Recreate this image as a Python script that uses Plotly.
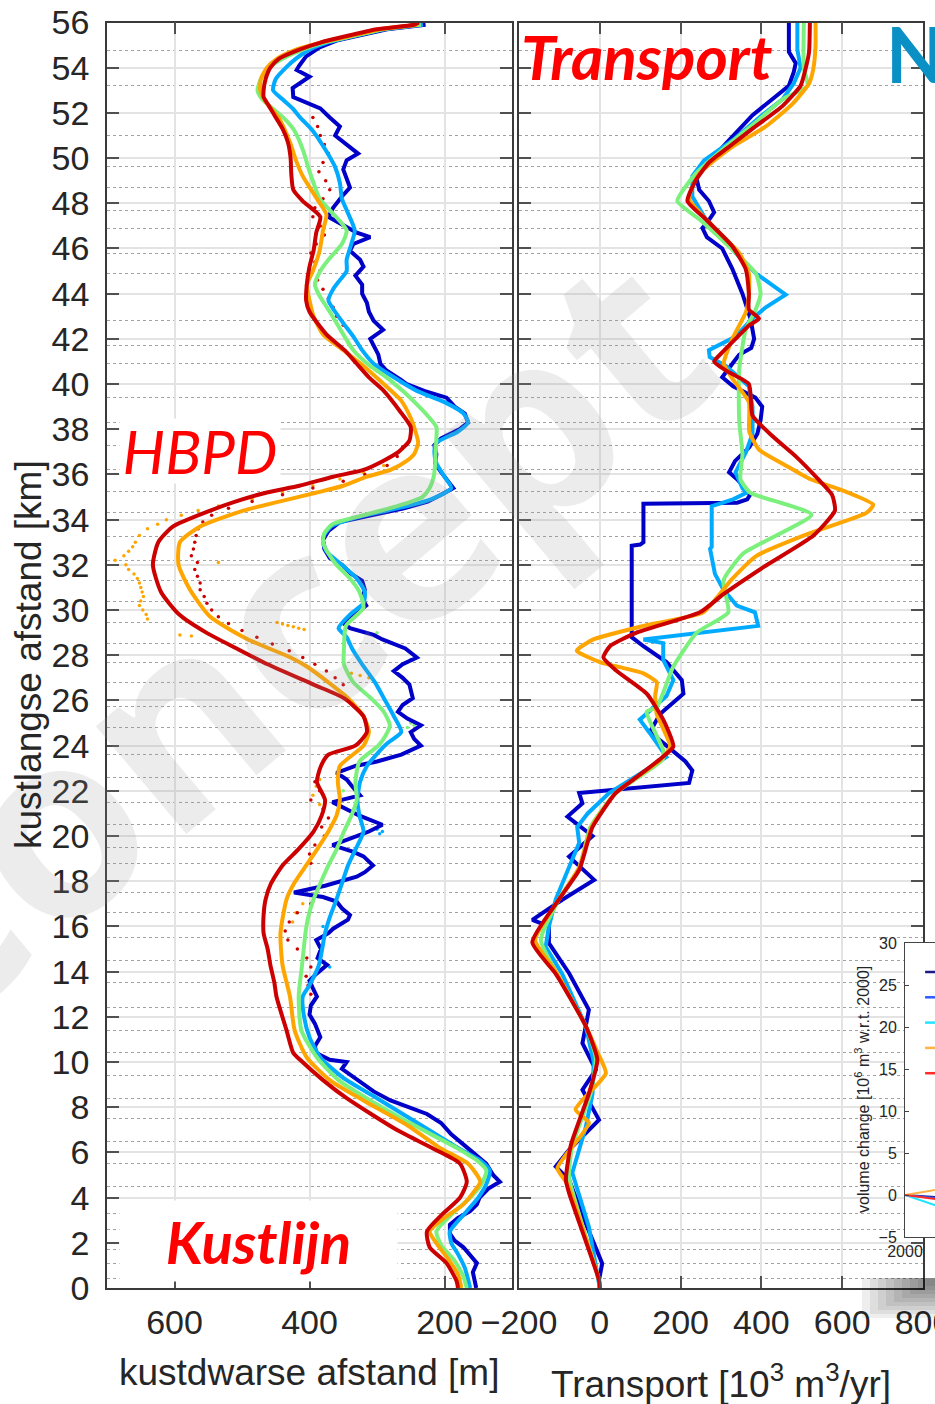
import plotly.graph_objects as go

W, H = 935, 1404


def fx(p):
    """pixel column -> paper x"""
    return p / W


def fy(p):
    """pixel row -> paper y"""
    return 1 - p / H


# ---------------- Kustlijn: kustdwarse positie [m] per kustlangse km ----------------
kust_blauw = [(55.9,228),(55.7,285),(55.4,330),(55.2,360),(54.9,385),(54.5,405),(54.1,415),(53.9,419),(53.6,400),(53.4,410),(53.1,425),(52.7,424),(52.4,400),(52.2,384),(51.8,370),(51.4,355),(51.0,362),(50.5,340),(50.2,328),(49.9,345),(49.5,350),(49.1,345),(48.7,340),(48.3,352),(47.8,365),(47.4,372),(47.1,355),(46.7,330),(46.5,310),(46.2,335),(45.9,340),(45.5,325),(45.2,320),(44.8,332),(44.4,322),(44.0,322),(43.6,315),(43.2,312),(42.8,305),(42.4,291),(42.0,310),(41.7,305),(41.3,298),(40.9,295),(40.6,286),(40.2,265),(40.0,256),(39.7,230),(39.4,197),(39.0,185),(38.7,170),(38.3,165),(38.0,178),(37.6,205),(37.3,215),(36.9,212),(36.5,214),(36.1,205),(35.8,197),(35.4,187),(35.1,205),(34.8,225),(34.5,260),(34.2,310),(33.9,355),(33.5,372),(33.1,380),(32.7,378),(32.3,370),(32.0,352),(31.6,338),(31.3,322),(30.9,318),(30.5,322),(30.2,316),(29.8,333),(29.4,349),(29.2,340),(28.9,305),(28.7,292),(28.3,258),(27.9,241),(27.6,262),(27.3,275),(27.0,262),(26.7,252),(26.4,250),(26.1,247),(25.8,262),(25.5,269),(25.2,255),(24.9,235),(24.6,250),(24.3,245),(24.0,235),(23.8,250),(23.6,264),(23.3,300),(23.1,332),(22.8,360),(22.5,345),(22.2,337),(21.8,325),(21.5,366),(21.2,345),(20.9,326),(20.5,292),(20.2,312),(20.0,330),(19.6,366),(19.3,335),(19.1,320),(18.7,306),(18.4,318),(18.2,330),(17.8,377),(17.5,423),(17.3,380),(17.1,360),(16.8,352),(16.5,340),(16.3,343),(15.9,365),(15.7,372),(15.4,390),(15.0,383),(14.6,388),(14.3,374),(13.9,390),(13.6,400),(13.2,394),(12.9,389),(12.5,398),(12.1,400),(11.7,392),(11.1,384),(10.7,392),(10.4,390),(10.1,370),(10.0,345),(9.7,352),(9.3,333),(8.7,305),(8.3,280),(7.7,226),(7.3,205),(6.8,190),(6.1,162),(5.5,138),(5.0,128),(4.7,118),(4.4,135),(4.0,148),(3.7,152),(3.4,162),(3.1,180),(2.8,192),(2.4,192),(2.1,185),(1.8,172),(1.4,160),(1.1,152),(0.7,158),(0.3,155),(0.0,153)]

kust_lichtblauw = [(55.9,232),(55.7,290),(55.4,335),(55.1,375),(54.8,400),(54.4,420),(54.0,435),(53.5,450),(53.0,454),(52.6,440),(52.2,425),(51.8,414),(51.2,395),(50.3,375),(49.6,362),(48.9,355),(48.2,352),(47.7,345),(46.8,333),(46.2,338),(45.5,345),(45.0,345),(44.6,355),(44.2,365),(43.7,372),(43.2,362),(42.7,350),(42.1,335),(41.5,322),(40.9,305),(40.3,275),(39.7,241),(39.2,200),(38.7,172),(38.3,165),(37.9,180),(37.4,212),(37.0,215),(36.5,212),(35.9,200),(35.4,190),(34.9,220),(34.5,270),(34.1,330),(33.7,368),(33.2,380),(32.6,375),(32.0,352),(31.4,330),(30.8,318),(30.3,320),(29.8,340),(29.2,357),(28.8,345),(28.3,337),(27.6,322),(26.8,303),(26.0,288),(25.3,275),(24.6,264),(24.1,285),(23.7,298),(23.1,315),(22.4,325),(21.6,329),(20.9,326),(20.2,320),(19.4,332),(18.7,343),(17.9,352),(17.2,360),(16.4,370),(15.7,377),(14.3,386),(13.4,400),(12.9,410),(12.0,408),(11.1,400),(10.2,384),(9.3,350),(8.4,300),(7.3,240),(6.2,180),(5.6,145),(5.2,133),(4.6,138),(4.0,150),(3.3,170),(2.5,192),(2.0,190),(1.5,180),(0.9,170),(0.0,162)]

kust_groen = [(55.9,235),(55.7,290),(55.4,335),(55.1,380),(54.8,410),(54.4,440),(54.0,460),(53.5,472),(53.0,477),(52.6,470),(52.2,455),(51.8,439),(51.2,422),(50.3,409),(49.6,402),(48.9,394),(48.2,385),(47.7,370),(46.8,345),(46.2,352),(45.5,372),(45.0,384),(44.4,392),(43.9,385),(43.2,370),(42.6,358),(41.5,335),(40.8,310),(40.3,286),(39.7,262),(39.1,241),(38.6,225),(38.1,212),(37.6,212),(37.0,213),(36.4,214),(35.9,216),(35.4,222),(35.0,233),(34.6,270),(34.2,320),(33.8,366),(33.4,378),(33.0,380),(32.5,372),(32.0,360),(31.4,340),(30.8,326),(30.1,320),(29.3,346),(28.3,349),(27.6,349),(26.8,335),(26.1,309),(25.5,290),(24.9,281),(24.4,288),(24.0,298),(23.3,326),(22.4,332),(21.6,330),(20.9,338),(20.2,349),(19.4,360),(18.7,372),(17.9,384),(17.2,394),(16.4,402),(15.7,406),(14.3,411),(12.9,416),(11.4,412),(10.2,389),(9.2,357),(8.3,310),(7.2,245),(6.2,182),(5.6,150),(5.2,138),(4.6,145),(4.0,162),(3.3,188),(2.5,212),(1.9,205),(1.2,185),(0.5,172),(0.0,167)]

kust_oranje = [(55.9,240),(55.7,295),(55.4,340),(55.1,385),(54.8,420),(54.4,448),(54.0,463),(53.5,472),(53.0,473),(52.5,465),(51.8,446),(50.7,429),(49.9,420),(49.2,410),(48.2,389),(47.5,375),(46.8,380),(45.9,385),(45.0,395),(44.4,404),(43.7,400),(43.0,394),(42.2,380),(41.5,350),(40.8,320),(40.0,290),(39.3,265),(38.5,250),(37.9,243),(37.4,239),(36.9,245),(36.6,256),(36.2,280),(35.9,315),(35.5,350),(35.2,389),(34.8,445),(34.4,498),(33.7,562),(33.0,592),(32.0,594),(30.9,577),(29.7,547),(28.7,491),(27.9,428),(27.5,404),(26.8,372),(26.1,343),(25.3,320),(24.6,312),(24.0,320),(23.1,355),(22.4,358),(21.6,355),(20.9,360),(20.2,372),(19.4,389),(18.7,405),(17.9,423),(17.2,434),(15.7,443),(14.3,440),(12.9,429),(11.4,422),(10.2,404),(9.2,370),(8.3,320),(7.2,255),(6.2,207),(5.5,165),(4.7,147),(4.2,158),(3.7,172),(3.0,205),(2.5,222),(1.9,210),(1.3,195),(0.6,180),(0.0,175)]

kust_rood = [(56.0,238),(55.9,245),(55.7,300),(55.4,345),(55.1,385),(54.8,415),(54.4,445),(54.0,458),(53.5,465),(53.0,468),(52.7,468),(52.3,460),(51.8,450),(51.3,440),(50.7,432),(50.0,428),(49.3,427),(48.6,424),(48.1,410),(47.4,384),(46.7,390),(45.9,394),(45.2,400),(44.4,404),(43.7,405),(43.2,400),(42.2,375),(41.5,348),(40.9,330),(40.3,312),(39.7,290),(38.8,266),(38.1,250),(37.5,252),(37.0,268),(36.6,291),(36.2,320),(35.9,365),(35.5,415),(35.2,463),(34.8,510),(34.4,547),(33.7,602),(33.0,624),(32.0,632),(30.8,620),(29.8,593),(29.0,553),(28.3,508),(27.6,462),(26.7,394),(26.1,349),(25.3,320),(24.6,315),(24.0,332),(23.6,372),(23.1,383),(22.4,389),(21.6,377),(20.9,382),(20.2,394),(19.4,417),(18.7,440),(17.9,457),(17.2,465),(16.5,468),(15.7,468),(15.0,462),(14.3,458),(13.5,452),(12.9,449),(11.4,434),(10.4,424),(10.1,414),(9.2,380),(8.4,345),(7.0,271),(6.1,212),(5.5,177),(4.7,167),(4.0,177),(3.3,202),(2.5,226),(1.8,222),(1.1,197),(0.3,182),(0.0,180)]

# losse meetpunten
meting_rood = [(51.8,395),(51.4,388),(51.0,384),(50.6,378),(50.2,372),(49.8,380),(49.4,386),(49.0,376),(48.6,370),(48.2,380),(47.8,392),(47.4,395),(47.0,384),(46.6,378),(46.2,390),(45.8,398),(45.4,392),(45.0,385),(44.6,388),(44.2,380),(43.8,372),(43.4,365),(43.0,360),(42.6,350),(37.2,262),(36.8,270),(36.4,285),(36.0,318),(35.7,350),(35.4,395),(35.1,440),(34.8,485),(34.5,520),(34.2,545),(33.9,558),(33.6,565),(33.3,568),(33.0,570),(32.7,572),(32.4,575),(32.1,566),(31.8,570),(31.5,566),(31.2,562),(30.9,562),(30.6,556),(30.3,552),(30.0,545),(29.7,535),(29.4,520),(29.1,500),(28.8,478),(28.5,455),(28.2,430),(27.9,410),(27.6,392),(27.3,375),(27.0,362),(26.7,350),(22.4,392),(22.0,385),(21.6,398),(21.2,380),(20.8,372),(20.4,382),(20.0,378),(19.6,392),(19.2,400),(18.8,398),(17.0,398),(16.6,418),(16.2,430),(15.8,436),(15.4,432),(15.0,418),(14.6,404),(14.2,398),(13.8,405),(13.4,402),(13.0,398)]
meting_oranje = [(36.4,290),(36.1,320),(35.8,355),(35.5,395),(35.2,440),(34.9,485),(34.6,535),(34.4,565),(34.2,590),(34.0,612),(33.8,625),(33.6,640),(33.3,652),(33.0,658),(32.8,662),(32.6,668),(32.4,675),(32.2,688),(32.0,672),(31.8,668),(31.6,660),(31.4,655),(31.2,652),(31.0,650),(30.8,648),(30.6,646),(30.4,650),(30.2,652),(30.0,647),(29.8,642),(29.6,640),(32.1,535),(29.45,448),(29.38,440),(29.32,432),(29.26,424),(29.2,416),(29.14,408),(28.9,592),(28.85,575),(27.2,338),(27.1,325),(27.0,312),(22.5,385),(22.2,390),(21.8,395),(21.4,385),(17.0,410),(16.6,420),(16.2,425)]
meting_lichtblauw = [(20.3,300),(20.2,292),(20.1,296),(16.0,380),(15.9,375),(14.3,375),(14.2,370),(27.8,250),(27.7,255)]
meting_groen = [(25.0,250),(24.9,245),(24.8,255),(29.0,300),(28.9,305),(22.0,350)]

# ---------------- Transport [10^3 m^3/yr] per kustlangse km ----------------
trans_blauw = [(56,468),(54.7,468),(54.2,485),(53.8,480),(53.2,468),(52.6,427),(51.9,378),(50.8,320),(49.9,274),(49.3,237),(48.6,246),(48.1,270),(47.6,283),(47.2,268),(46.9,254),(46.5,265),(46.0,303),(45.1,328),(44.0,353),(42.9,373),(42.0,382),(41.6,375),(41.3,345),(40.9,328),(40.3,303),(39.9,330),(39.4,385),(39.0,402),(38.4,398),(37.8,390),(37.2,370),(36.6,335),(36.1,320),(35.8,339),(35.4,360),(35.1,372),(34.9,365),(34.75,340),(34.7,108),(33.0,108),(32.9,100),(32.85,79),(28.8,79),(28.4,108),(27.7,165),(26.9,203),(26.3,207),(25.4,149),(24.6,124),(24.0,165),(23.3,212),(22.9,229),(22.35,221),(21.9,-51),(21.45,-43),(20.86,-80),(20.0,-18),(19.09,-76),(18.06,-14),(17.18,-93),(16.29,-167),(16.0,-126),(15.26,-126),(13.93,-76),(12.31,-27),(10.83,-43),(9.65,-10),(8.77,-43),(7.44,-2),(6.11,-76),(5.37,-109),(4.78,-76),(2.86,-35),(1.09,6),(0.35,-2),(0.0,0)]
trans_lichtblauw = [(56,489),(54.8,489),(54.0,497),(53.3,480),(52.6,452),(51.9,402),(50.8,330),(49.9,258),(49.2,229),(48.3,229),(47.3,262),(45.8,336),(44.9,386),(43.96,460),(43.4,411),(42.9,378),(42.1,336),(41.5,270),(41.2,272),(40.8,312),(39.9,369),(39.0,378),(37.8,378),(37.0,362),(36.1,336),(35.4,353),(35.2,364),(34.9,330),(34.6,277),(32.8,277),(32.7,273),(31.6,285),(30.9,306),(30.2,339),(29.9,384),(29.3,392),(28.7,108),(28.54,157),(27.8,157),(26.9,182),(26.2,165),(25.15,99),(24.55,124),(23.5,165),(22.7,95),(21.9,23),(21.0,-30),(20.4,-56),(19.7,-51),(18.5,-80),(17.2,-109),(16.0,-126),(15.1,-134),(13.9,-93),(11.6,-35),(10.0,-15),(8.6,-18),(7.1,-35),(5.1,-68),(2.7,-27),(0.35,-2),(0.0,0)]
trans_groen = [(56,505),(54.0,505),(53.2,514),(52.6,452),(51.7,394),(50.5,312),(49.3,237),(48.1,192),(47.3,246),(45.95,328),(44.9,386),(44.0,398),(43.3,386),(42.4,361),(40.6,345),(38.4,345),(36.9,353),(35.8,348),(35.2,372),(34.22,524),(32.5,355),(31.3,306),(29.9,318),(29.0,240),(27.5,182),(25.7,141),(25.5,116),(23.8,157),(23.37,155),(21.9,39),(20.4,-23),(18.6,-51),(17.2,-101),(15.4,-146),(14.0,-109),(11.6,-35),(10.2,-10),(8.6,-23),(6.3,-68),(4.9,-76),(0.35,-2),(0.0,0)]
trans_oranje = [(56,534),(54.95,534),(53.9,528),(53.3,518),(52.4,477),(51.4,411),(50.4,320),(49.3,246),(48.2,221),(47.0,279),(45.8,345),(44.9,369),(43.9,369),(43.2,362),(42.0,328),(40.9,307),(40.2,330),(39.2,369),(37.9,370),(37.1,394),(36.4,460),(35.8,520),(35.3,600),(34.66,677),(34.3,660),(33.4,520),(32.4,388),(31.35,326),(29.9,256),(29.3,108),(28.7,-16),(28.2,-57),(27.7,0),(27.2,108),(26.8,141),(26.2,137),(25.4,141),(23.96,174),(23.37,150),(21.9,39),(20.4,-20),(18.6,-51),(17.2,-101),(15.4,-160),(14.0,-109),(11.6,-35),(10.4,-5),(9.5,15),(7.9,-60),(7.3,-27),(5.3,-105),(4.6,-80),(2.5,-40),(0.35,-2),(0.0,0)]
trans_rood = [(56,520),(54.7,518),(54.0,510),(53.2,497),(52.3,452),(51.3,378),(50.5,320),(49.8,270),(49.0,237),(48.1,217),(47.3,262),(46.1,328),(45.1,361),(44.0,369),(43.3,369),(42.9,394),(42.6,370),(42.0,336),(41.4,303),(41.0,283),(40.6,312),(40.0,369),(38.6,378),(37.7,427),(36.8,485),(35.8,540),(35.1,575),(34.4,582),(33.3,529),(31.9,405),(30.7,306),(29.9,248),(29.0,91),(28.4,25),(27.9,9),(27.3,42),(26.3,116),(25.15,157),(23.96,182),(23.37,147),(22.5,83),(21.9,39),(20.4,-18),(18.5,-51),(17.2,-101),(15.3,-167),(13.9,-109),(11.6,-35),(10.1,-6),(8.6,-27),(6.3,-72),(4.78,-84),(4.2,-76),(0.35,-2),(0.0,0)]

# raaien (gestippelde hulplijnen)
raai_km = [0.4, 1.1, 1.7, 2.6, 3.3, 4.5, 5.5, 6.5, 7.5, 8.4, 9.4, 10.4, 11.4, 12.4, 13.5, 14.5, 15.5, 16.6, 17.5, 18.8, 19.5, 20.5, 21.5, 22.6, 23.6, 24.8, 25.75, 26.8, 27.7, 28.5, 29.45, 30.4, 31.3, 32.2, 33.25, 34.3, 35.25, 36.2, 37.3, 38.3, 39.4, 40.9, 41.7, 42.8, 44.9, 45.8, 46.9, 47.7, 48.7, 49.65, 51.0, 53.2, 54.75]

y_ticks = list(range(0, 57, 2))
x1_ticks = [600, 400, 200]
x2_ticks = [-200, 0, 200, 400, 600, 800]

# inzet: volumeverandering [10^6 m^3 t.o.v. 2000]
vol_jaren = [2000, 2005]
vol_reeksen = [
    ([0, -0.4], "#1B1B8A"),
    ([0, -0.6], "#2D5CFF"),
    ([0, -2.0], "#22E4FF"),
    ([0, 1.0], "#FFB347"),
    ([0, -0.8], "#FF2B2B"),
]
vol_yticks = [-5, 0, 5, 10, 15, 20, 25, 30]

C_DB, C_LB, C_GR, C_OR, C_RD = "#0000C8", "#00AAFF", "#7CF07C", "#FFA500", "#CC0000"
TXT = "#262626"
FONT = "Liberation Sans, Arial, sans-serif"


def unzip(pairs):
    return [p[0] for p in pairs], [p[1] for p in pairs]


fig = go.Figure()

# meetpunten (onder de lijnen)
for pairs, col in [(meting_lichtblauw, C_LB), (meting_groen, C_GR),
                   (meting_oranje, C_OR), (meting_rood, C_RD)]:
    km, m = unzip(pairs)
    fig.add_trace(go.Scatter(x=m, y=km, mode="markers", xaxis="x", yaxis="y",
                             marker=dict(size=3.5, color=col), hoverinfo="skip"))

# kustlijnen
for pairs, col, shape in [(kust_blauw, C_DB, "linear"), (kust_lichtblauw, C_LB, "spline"),
                          (kust_groen, C_GR, "spline"), (kust_oranje, C_OR, "spline"),
                          (kust_rood, C_RD, "spline")]:
    km, m = unzip(pairs)
    fig.add_trace(go.Scatter(x=m, y=km, mode="lines", xaxis="x", yaxis="y",
                             line=dict(color=col, width=4, shape=shape, smoothing=0.6),
                             hoverinfo="skip"))

# transport
for pairs, col, shape in [(trans_blauw, C_DB, "linear"), (trans_lichtblauw, C_LB, "linear"),
                          (trans_groen, C_GR, "spline"), (trans_oranje, C_OR, "spline"),
                          (trans_rood, C_RD, "spline")]:
    km, t = unzip(pairs)
    fig.add_trace(go.Scatter(x=t, y=km, mode="lines", xaxis="x2", yaxis="y2",
                             line=dict(color=col, width=4, shape=shape, smoothing=0.5),
                             hoverinfo="skip"))

# inzet
for vals, col in vol_reeksen:
    fig.add_trace(go.Scatter(x=vol_jaren, y=vals, mode="lines", xaxis="x4", yaxis="y4",
                             line=dict(color=col, width=2), hoverinfo="skip"))

axis_base = dict(
    automargin=False, ticklabeloverflow="allow",
    showline=True, linecolor="#3a3a3a", linewidth=1.5, mirror="ticks",
    ticks="inside", ticklen=12, tickwidth=1.5, tickcolor="#505050",
    showgrid=True, gridcolor="#e3e3e3", gridwidth=2, zeroline=False,
    tickfont=dict(family=FONT, size=34, color=TXT),
)
inset_base = dict(
    automargin=False, ticklabeloverflow="allow",
    showline=True, linecolor="#444444", linewidth=1, mirror=True,
    ticks="inside", ticklen=4, tickcolor="#444444", showgrid=False,
    zeroline=False, tickmode="array", tickfont=dict(family=FONT, size=16, color=TXT),
)
y_dom = [fy(1288), fy(22.5)]
y_minor = dict(tickmode="array", tickvals=raai_km, showgrid=True,
               gridcolor="#a2a2a2", griddash="dot", gridwidth=1, ticks="")

fig.update_layout(
    template="none",
    width=W, height=H,
    margin=dict(l=0, r=0, t=0, b=0, autoexpand=False),
    paper_bgcolor="white", plot_bgcolor="white",
    showlegend=False,
    xaxis=dict(axis_base, domain=[fx(107), fx(512)], range=[700, 100],
               tickmode="array", tickvals=x1_ticks, anchor="y", ticklabelstandoff=3),
    yaxis=dict(axis_base, domain=y_dom, range=[0, 56], tickmode="array",
               tickvals=y_ticks, anchor="x", minor=y_minor, ticklabelstandoff=9),
    xaxis2=dict(axis_base, domain=[fx(519), fx(923)], range=[-200, 800],
                tickmode="array", tickvals=x2_ticks, anchor="y2", ticklabelstandoff=3),
    yaxis2=dict(axis_base, domain=y_dom, range=[0, 56], tickmode="array",
                tickvals=y_ticks, anchor="x2", minor=y_minor, showticklabels=False),
    xaxis3=dict(domain=[fx(838), 1.0], range=[0, 1], anchor="y3", visible=False,
                automargin=False),
    yaxis3=dict(domain=[fy(1335), fy(915)], range=[0, 1], anchor="x3", visible=False,
                automargin=False),
    xaxis4=dict(inset_base, domain=[fx(905), 1.0], range=[2000, 2003], anchor="y4",
                tickvals=[2000]),
    yaxis4=dict(inset_base, domain=[fy(1237), fy(943)], range=[-5, 30], anchor="x4",
                tickvals=vol_yticks, ticklabelstandoff=4),
)

shapes = []
# inzet: witte achtergrond (boven het rechterpaneel, onder de inzetlijnen)
DY0, DYH = 1335, 420
shapes.append(dict(type="rect", xref="x3 domain", yref="y3 domain", layer="below",
                   x0=0, x1=1.0, y0=(DY0 - 1277) / DYH, y1=1.0,
                   fillcolor="white", line=dict(color="#d4d4d4", width=1)))
# inzet: vage schaduw onder de rand
for i in range(9):
    shapes.append(dict(type="rect", xref="paper", yref="paper", layer="above",
                       x0=fx(862 + i * 8), x1=1.0,
                       y0=fy(1318 - i * 4), y1=fy(1278),
                       fillcolor="rgba(0,0,0,0.065)", line=dict(width=0)))
# legendastreepjes in de inzet
for k, (vals, col) in enumerate(vol_reeksen):
    yy = (1237 - (972 + 25.3 * k)) / 294
    shapes.append(dict(type="line", xref="x4 domain", yref="y4 domain", layer="above",
                       x0=0.67, x1=1.0, y0=yy, y1=yy, line=dict(color=col, width=2.5)))
fig.update_layout(shapes=shapes)


def label(text, px, py, **kw):
    d = dict(text=text, x=fx(px), y=fy(py), xref="paper", yref="paper",
             showarrow=False, xanchor="center", yanchor="middle")
    d.update(kw)
    return d


ann = [
    # watermerk
    label("Concept", 262, 640, textangle=-40,
          font=dict(family="Open Sans, sans-serif", size=258, weight=700,
                    color="rgba(150,150,150,0.18)")),
    # astitels
    label("kustlangse afstand [km]", 28, 655, textangle=-90,
          font=dict(family=FONT, size=37, color=TXT)),
    label("kustdwarse afstand [m]", 309, 1372, font=dict(family=FONT, size=37, color=TXT)),
    label("Transport [10<sup>3</sup> m<sup>3</sup>/yr]", 721, 1381,
          font=dict(family=FONT, size=37, color=TXT)),
    label("volume change [10<sup>6</sup> m<sup>3</sup> w.r.t. 2000]", 862, 1090,
          textangle=-90, font=dict(family=FONT, size=16, color=TXT)),
    # labels in de panelen
    label("<i>HBPD</i>", 200, 451, width=160, height=64, bgcolor="white", borderpad=0,
          font=dict(family="Lato, sans-serif", size=60, color="#FF0000")),
    label("<b><i>Kustlijn</i></b>", 258, 1241, width=277, height=80, bgcolor="white",
          borderpad=0, font=dict(family="Lato, sans-serif", size=58, color="#FF0000")),
    label("<b><i>Transport</i></b>", 647, 56,
          font=dict(family="Lato, sans-serif", size=62, color="#FF0000")),
    label("<b>N</b>", 884, 54, xanchor="left",
          font=dict(family="Lato, sans-serif", size=76, color="#0A90C4")),
]
fig.update_layout(annotations=ann)

fig.write_html("out.html")
